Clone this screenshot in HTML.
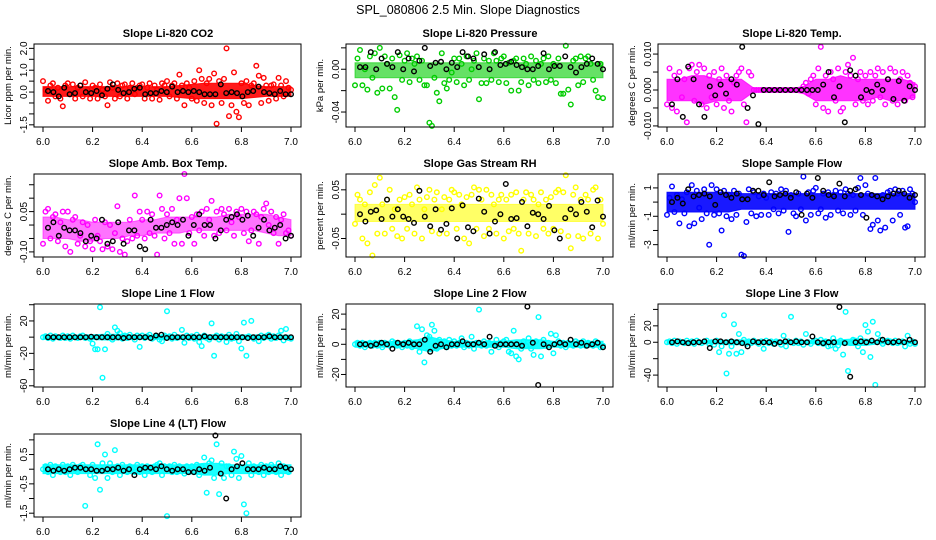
<!DOCTYPE html>
<html><head><meta charset="utf-8"><style>
html,body{margin:0;padding:0;background:#fff;}
svg{display:block;font-family:"Liberation Sans",Arial,sans-serif;}
</style></head><body>
<svg id="chart" width="936" height="540" viewBox="0 0 936 540" xmlns="http://www.w3.org/2000/svg">
<rect width="936" height="540" fill="#fff"/>
<text x="468" y="14" text-anchor="middle" font-size="12.5">SPL_080806  2.5 Min. Slope Diagnostics</text>
</svg>
<script>
// ---------- data ----------
const panelTitles = ["Slope Li-820 CO2","Slope Li-820 Pressure","Slope Li-820 Temp.","Slope Amb. Box Temp.","Slope Gas Stream RH","Slope Sample Flow","Slope Line 1 Flow","Slope Line 2 Flow","Slope Line 3 Flow","Slope Line 4 (LT) Flow"];
const yLabels = ["Licor ppm per min.","kPa per min.","degrees C per min.","degrees C per min.","percent per min.","ml/min per min.","ml/min per min.","ml/min per min.","ml/min per min.","ml/min per min."];
const colors = ["#ff0000","#00cd00","#ff00ff","#ff00ff","#ffff00","#0000ff","#00ffff","#00ffff","#00ffff","#00ffff"];
const bandOpacity = [0.9,0.6,0.8,0.55,0.6,0.9,0.9,0.9,0.9,0.9];
const yMin = [-1.6,-0.054,-0.0103,-0.119,-0.088,-3.87,-61.5,-28.3,-54.5,-1.63];
const yMax = [2.2,0.0236,0.0128,0.19,0.0825,1.98,40.9,26.7,46.6,1.2];
const yTicks = [[-1.5,-1,-0.5,0,0.5,1,1.5,2],[-0.04,-0.02,0,0.02],[-0.01,-0.005,0,0.005,0.01],[-0.1,-0.05,0,0.05,0.1,0.15],[-0.05,0,0.05],[-3,-2,-1,0,1],[-60,-40,-20,0,20,40],[-20,-10,0,10,20],[-40,-20,0,20,40],[-1.5,-1,-0.5,0,0.5,1]];
const yTickLabels = [["-1.5","","","0.0","","1.0","","2.0"],["-0.04","","0.00",""],["-0.010","","0.000","","0.010"],["-0.10","","","0.05","",""],["-0.05","","0.05"],["-3","","-1","","1"],["-60","","-20","","20",""],["-20","","0","","20"],["-40","","0","20",""],["-1.5","","-0.5","","0.5",""]];
const xTicks = [6.0,6.2,6.4,6.6,6.8,7.0];
const xTickLabels = ["6.0","6.2","6.4","6.6","6.8","7.0"];

const bandTop0=[0.25,0.25,0.25,0.25,0.25,0.25,0.25,0.25,0.25,0.25,0.25,0.3,0.35,0.4,0.4,0.4,0.4,0.3,0.25,0.25,0.25];
const bandBot0=[-0.2,-0.2,-0.2,-0.2,-0.2,-0.2,-0.2,-0.2,-0.2,-0.2,-0.2,-0.25,-0.3,-0.3,-0.3,-0.3,-0.3,-0.25,-0.2,-0.2,-0.2];
const cloud0=[0.5,0.1,-0.4,0.3,0.4,-0.2,0.2,-0.3,-0.65,0.3,0.4,-0.1,0.35,-0.3,0.2,0.3,-0.2,0.45,0.1,-0.3,0.3,0.2,-0.3,0.35,0.1,-0.2,-0.6,0.45,0.2,-0.3,0.4,-0.2,0.3,0.35,-0.3,0.2,0.4,-0.1,0.2,0.3,0.35,-0.3,0.2,0.4,-0.3,0.3,0.1,-0.35,0.4,0.3,0.5,-0.2,0.3,0.4,-0.3,0.8,0.3,-0.6,0.4,0.2,-0.3,0.5,-0.4,1.0,0.6,-0.5,0.4,0.6,-0.6,0.85,-1.45,0.5,-0.5,0.6,2.0,-1.1,-0.6,0.9,-0.9,-1.15,0.4,-0.5,0.5,-0.6,0.3,0.4,1.2,0.75,-0.5,0.65,0.3,-0.4,0.3,0.35,-0.3,0.65,0.3,-0.2,0.5,0.2,0.1];
const black0=[0.05,0.0,-0.2,0.2,-0.1,-0.05,0.3,0.0,-0.05,0.05,-0.15,0.15,0.35,0.1,-0.05,0.0,0.15,0.2,-0.1,-0.05,-0.05,0.05,0.0,0.25,0.0,0.05,0.0,0.05,0.0,-0.1,-0.1,-0.1,0.35,-0.05,0.0,-0.05,-0.2,0.0,0.05,0.25,0.0,-0.05,-0.1,0.05,-0.1,-0.1];

const bandTop1=[0.006,0.006,0.006,0.006,0.006,0.006,0.006,0.006,0.006,0.006,0.006,0.006,0.006,0.006,0.006,0.006,0.006,0.006,0.006,0.006,0.006];
const bandBot1=[-0.008,-0.008,-0.008,-0.008,-0.008,-0.008,-0.008,-0.008,-0.008,-0.008,-0.008,-0.008,-0.008,-0.008,-0.008,-0.008,-0.008,-0.008,-0.008,-0.008,-0.008];
const cloud1=[-0.015,0.01,0.018,-0.015,0.0,-0.019,0.012,-0.008,0.015,-0.022,0.02,-0.018,0.012,0.005,-0.018,0.01,-0.026,-0.038,0.013,-0.01,0.008,0.015,-0.012,0.01,0.005,0.012,-0.01,0.008,-0.015,-0.015,-0.05,-0.053,-0.008,-0.022,-0.03,0.015,-0.013,-0.018,-0.01,-0.003,0.01,-0.012,0.01,0.005,-0.015,0.012,-0.01,0.0,0.008,0.015,-0.028,-0.013,0.01,-0.013,0.008,-0.01,0.015,0.008,-0.012,0.01,0.012,-0.013,0.006,-0.02,0.008,0.01,-0.02,-0.012,0.01,0.005,-0.015,0.012,-0.01,0.008,-0.013,0.005,0.01,-0.012,0.012,-0.01,0.005,-0.013,0.01,-0.023,-0.023,0.022,-0.019,-0.033,0.008,0.01,-0.015,0.012,-0.012,0.01,0.012,0.005,-0.01,-0.02,-0.026,0.005,-0.027];
const black1=[0.002,0.002,0.016,0.0,0.01,0.005,0.002,0.016,0.0,0.01,-0.002,0.008,0.02,0.003,0.006,0.007,0.0,0.006,0.002,0.016,0.012,0.01,0.002,0.014,0.0,0.016,0.004,0.005,0.007,0.004,0.002,0.0,0.0,0.003,0.015,0.0,0.003,0.003,0.012,0.002,-0.003,0.002,0.005,0.01,0.005,0.0];

const bandTop2=[0.003,0.003,0.004,0.004,0.003,0.003,0.003,0.0005,0.0003,0.0003,0.0003,0.001,0.003,0.003,0.004,0.003,0.003,0.003,0.003,0.003,0.002];
const bandBot2=[-0.003,-0.003,-0.003,-0.004,-0.003,-0.003,-0.003,-0.0005,-0.0003,-0.0003,-0.0003,-0.001,-0.003,-0.003,-0.003,-0.003,-0.003,-0.002,-0.003,-0.003,-0.002];
const cloud2=[-0.004,0.006,-0.005,0.004,-0.006,0.005,-0.002,0.003,-0.009,0.006,0.007,-0.003,0.005,0.007,-0.004,0.006,-0.005,0.004,-0.002,0.005,-0.004,0.003,0.006,-0.005,0.004,-0.003,-0.006,0.002,0.004,0.005,0.006,-0.004,-0.009,0.005,0.004,0,0,0,0,0,0,0,0,0,0,0,0,0,0,0,0,0,0,0,0,0.001,0.002,-0.001,0.003,0.004,-0.004,0.006,0.012,-0.005,0.004,-0.006,0.005,0.003,-0.003,0.006,-0.006,-0.005,0.005,0.007,0.004,0.009,-0.004,0.003,0.005,-0.003,0.004,-0.004,0.005,-0.003,0.004,0.006,-0.002,0.005,-0.004,0.003,0.006,-0.003,0.005,-0.004,0.003,0.005,-0.003,0.004,0.002,-0.002,0.001];
const black2=[-0.004,0.003,-0.0075,0.0065,0.003,-0.004,-0.0075,0.001,-0.0015,0.0015,-0.001,0.003,0.0015,0.012,-0.005,-0.0015,-0.0095,0,0,0,0,0,0,0,0,0,0,0,0.0015,0.005,-0.002,0.001,-0.009,0.0055,0.004,-0.002,0,-0.0005,0.0015,0,0.003,-0.0025,0.0025,-0.003,0.001,0];

const bandTop3=[0.03,0.03,0.02,0.02,0.01,0.01,0.01,0.01,0.02,0.02,0.03,0.03,0.03,0.03,0.03,0.04,0.04,0.04,0.04,0.03,0.02];
const bandBot3=[-0.05,-0.05,-0.05,-0.06,-0.06,-0.05,-0.05,-0.04,-0.04,-0.03,-0.03,-0.03,-0.02,-0.02,-0.02,-0.02,-0.02,-0.02,-0.03,-0.04,-0.04];
const cloud3=[-0.07,0.05,0.06,-0.05,0.03,0.04,-0.06,0.01,0.05,-0.08,0.05,-0.1,0.02,0.03,-0.07,-0.04,0.01,-0.08,0.0,-0.06,-0.09,0.02,-0.04,-0.06,-0.09,0.01,-0.08,0.0,-0.09,-0.03,0.07,-0.1,-0.05,-0.11,-0.06,0.02,-0.05,0.11,-0.04,0.05,0.02,-0.05,0.05,-0.03,0.04,-0.04,-0.11,0.11,0.06,-0.05,0.04,-0.03,0.06,-0.07,0.02,0.1,-0.07,0.19,0.1,-0.03,0.03,-0.07,0.04,-0.02,0.05,-0.04,0.06,0.02,0.09,-0.04,0.05,-0.03,0.06,0.04,-0.02,0.06,0.01,-0.04,0.05,0.03,0.06,-0.03,0.05,-0.06,-0.02,0.05,0.04,-0.07,0.03,0.06,0.08,0.0,0.05,-0.03,0.03,-0.07,0.02,0.04,-0.03,-0.02,-0.04];
const black3=[-0.01,0.01,-0.04,-0.01,-0.02,-0.02,-0.03,-0.06,-0.04,-0.05,0.02,-0.07,-0.06,0.01,-0.07,-0.02,-0.02,-0.08,-0.09,0.02,-0.01,-0.01,0.0,0.01,0.0,0.02,-0.04,0.0,0.04,0.0,0.0,-0.05,-0.02,0.02,0.03,0.04,0.02,0.035,-0.04,-0.01,0.02,-0.02,-0.01,0.0,-0.05,-0.04];

const bandTop4=[0.02,0.02,0.02,0.02,0.02,0.02,0.02,0.02,0.02,0.02,0.02,0.02,0.02,0.02,0.02,0.02,0.02,0.02,0.02,0.02,0.02];
const bandBot4=[-0.015,-0.015,-0.015,-0.015,-0.015,-0.015,-0.015,-0.015,-0.015,-0.015,-0.015,-0.015,-0.015,-0.015,-0.015,-0.015,-0.015,-0.015,-0.015,-0.015,-0.015];
const cloud4=[-0.02,0.04,0.03,-0.05,0.02,-0.06,0.045,-0.085,0.06,-0.04,0.075,0.02,-0.04,0.03,0.05,-0.03,0.01,-0.045,0.03,-0.05,0.035,-0.03,0.04,0.02,-0.04,0.055,0.03,-0.05,0.01,0.035,0.05,-0.035,0.03,0.045,-0.04,0.01,0.035,-0.04,0.03,0.05,0.045,-0.03,0.04,0.02,-0.05,0.035,-0.06,0.04,0.055,-0.03,0.05,0.03,-0.045,0.05,-0.03,0.04,0.02,-0.04,0.03,0.04,-0.05,0.03,-0.035,0.04,-0.03,0.045,-0.04,-0.075,0.03,0.045,-0.04,0.04,0.03,-0.045,0.02,0.045,-0.03,0.03,-0.04,0.035,-0.03,0.045,0.05,-0.035,0.045,0.08,-0.045,-0.07,0.04,0.055,-0.045,0.03,-0.05,0.04,0.03,-0.04,0.05,0.055,-0.05,0.03,-0.02];
const black4=[0.0,-0.015,0.005,0.008,-0.01,0.03,-0.005,0.01,-0.005,-0.01,-0.018,0.048,-0.005,-0.025,0.01,-0.032,-0.02,0.012,-0.05,0.018,-0.027,-0.035,0.032,0.005,-0.04,-0.015,0.0,0.062,-0.01,-0.008,0.025,-0.025,0.003,0.0,-0.01,0.017,-0.033,-0.05,-0.008,0.01,0.0,0.025,0.005,-0.027,0.028,-0.005];

const bandTop5=[0.7,0.7,0.7,0.7,0.7,0.7,0.6,0.6,0.6,0.6,0.6,0.6,0.6,0.6,0.6,0.6,0.6,0.6,0.6,0.6,0.6];
const bandBot5=[-0.7,-0.7,-0.7,-0.7,-0.7,-0.7,-0.5,-0.5,-0.5,-0.5,-0.5,-0.5,-0.5,-0.5,-0.5,-0.5,-0.5,-0.5,-0.5,-0.5,-0.5];
const cloud5=[-0.9,0.3,1.1,-0.7,0.5,-1.5,0.2,-0.8,0.7,-1.7,1.2,-1.5,0.8,-0.4,-1.2,0.9,-0.8,-3.0,1.2,-0.9,0.9,-0.8,-2.0,0.8,-1.0,0.5,-1.2,0.8,-0.9,0.6,-3.7,-3.8,-1.4,0.9,-0.8,0.7,-1.0,0.4,-0.9,0.6,0.3,-0.9,0.7,-0.5,0.6,-0.8,0.9,-0.6,0.8,-2.1,0.5,-0.8,-1.0,0.6,-0.5,1.8,-1.3,0.7,-0.9,0.8,1.0,-0.8,-0.5,0.6,-1.1,0.7,-0.9,0.5,0.8,-0.6,0.7,-0.8,0.9,0.6,-0.9,0.5,-0.6,1.0,1.7,-0.9,1.2,0.6,-1.9,-1.6,1.7,-1.3,-2.0,0.5,-1.8,0.7,0.8,-1.3,0.9,0.6,-0.9,0.8,-1.8,-1.7,0.9,0.6,0.0];
const black5=[0.0,0.3,-0.1,0.9,0.4,0.5,0.6,0.4,-0.2,0.7,0.5,0.3,0.6,0.2,0.2,0.8,0.8,0.5,1.4,0.4,0.5,0.6,0.3,0.7,-0.9,0.6,0.3,1.7,0.8,0.5,0.4,1.3,0.4,0.8,0.9,0.5,-1.1,0.5,0.4,0.2,0.4,0.6,0.8,0.6,0.3,0.5];

const bandTop6=[2.5,2.5,2.5,2.5,3,3.5,3.5,3,2.5,2.5,3,2.5,2.5,3,3,3,3,2.5,2.5,2.5,2.5];
const bandBot6=[-2.5,-2.5,-2.5,-2.5,-3,-3.5,-3.5,-3,-2.5,-2.5,-3,-2.5,-2.5,-3,-3,-3,-3,-2.5,-2.5,-2.5,-2.5];
const cloud6=[0,1,-1,2,-2,1,0,-1,2,-1,1,-2,2,0,-1,1,2,-1,0,-2,-8,-15,-15,37,-50,-15,4,-1,-3,12,8,5,-2,2,-1,3,0,-3,2,-12,2,-1,1,3,-2,0,1,-3,-5,2,32,1,-2,3,-1,0,9,-7,2,-1,1,-2,3,-6,-11,2,-1,-3,17,-23,2,-3,1,0,-6,3,-2,-1,4,-5,-14,18,-23,1,20,-2,0,-5,2,-1,1,3,-2,1,-1,2,8,-4,10,-1,-2];
const black6=[0,0,0,0,0,0,0,0,0.5,0,0,0,0,0,-1,0,0,0,0,-1,2,3,-1,0,0,0,0,0,0,1,0,0,0,0,0,0,0,-1,0,0,0,1,0,0,0,0];

const bandTop7=[2,2,2,2,2,3,5,3,2,2,2,2,2,3,3,3,2,2,2,2,2];
const bandBot7=[-2,-2,-2,-2,-2,-3,-5,-3,-2,-2,-2,-2,-2,-3,-3,-3,-2,-2,-2,-2,-2];
const cloud7=[0,1,-1,1,-2,0,1,-1,1,-1,1,-2,1,0,-1,2,1,-1,0,-2,1,-1,2,-2,1,12,-5,10,-12,6,5,13,9,-3,3,-1,2,-2,3,-1,2,-1,1,4,-2,1,-1,5,-3,1,23,-1,2,-1,1,-5,0,3,-2,1,2,3,-5,-6,9,-8,-10,-3,2,-1,4,-3,-7,2,18,-8,3,-1,1,7,-6,6,2,-1,1,-2,1,0,-1,2,1,-1,2,-1,1,0,-1,2,1,-2,-1];
const black7=[0,0,-1,0,1,0,-3,1,0,1,0,0,3,-5,-1,0,-2,0,0,2,0,0,1,0,5,-1,0,0,0,0,-1,25,1,-27,0,-2,0,1,0,3,0,1,-1,0,1,-2];

const bandTop8=[2,2,2,2,2,3,3,2,2,2,2,2,2,3,3,4,4,2,2,2,2];
const bandBot8=[-2,-2,-2,-2,-2,-3,-3,-2,-2,-2,-2,-2,-2,-3,-3,-4,-4,-2,-2,-2,-2];
const cloud8=[0,1,-1,2,-2,1,0,-1,2,-1,1,-2,2,0,-1,1,2,-2,0,-3,2,-12,-5,33,-38,-14,-5,22,-14,10,-12,3,-2,1,-1,2,0,-2,1,-8,2,-1,1,-2,1,0,-3,8,-5,1,31,-1,2,-1,1,-3,10,0,-2,1,2,-1,3,-2,1,-5,-4,5,-8,-4,2,-15,37,-35,-1,3,2,-5,5,-12,21,13,-18,25,-52,10,3,-2,1,2,1,-1,2,-1,0,1,-5,8,-2,1,-2];
const black8=[0,1,0,-1,0,0,1,-7,1,1,0,1,0,-1,-5,1,0,0,0,-2,0,1,0,1,0,0,7,0,-1,0,0,43,-1,-42,0,1,0,2,0,3,0,0,1,0,3,0];

const bandTop9=[0.15,0.15,0.15,0.15,0.15,0.15,0.15,0.15,0.15,0.15,0.15,0.15,0.15,0.2,0.2,0.15,0.15,0.15,0.15,0.15,0.15];
const bandBot9=[-0.15,-0.15,-0.15,-0.15,-0.15,-0.15,-0.15,-0.15,-0.15,-0.15,-0.15,-0.15,-0.15,-0.2,-0.2,-0.15,-0.15,-0.15,-0.15,-0.15,-0.15];
const cloud9=[0,0.1,-0.1,0.15,-0.2,0.1,0,-0.1,0.15,-0.1,0.1,-0.2,0.15,0,-0.1,0.1,0.15,-1.25,0,-0.2,0.15,-0.3,0.85,-0.7,0.2,0.5,-0.3,0.2,-0.1,0.65,0.1,-0.2,0.15,0,-0.1,0.1,0.05,-0.1,0.15,-0.1,0.1,-0.2,0.1,0,-0.1,0.1,0.15,0.2,-0.2,0.1,-1.6,0.1,-0.1,0.15,-0.1,0.1,0,-0.15,0.1,-0.1,0.1,-0.1,0.15,-0.2,0.1,0.4,-0.8,0.2,0.3,-0.3,0.85,-0.85,0.2,-0.3,0.1,0.1,-0.2,0.6,0.35,-0.3,0.45,-1.2,-1.5,0.2,-0.2,0.1,0,-0.1,0.15,-0.2,0.1,-0.1,0.15,0,-0.1,0.2,-0.2,0.1,0.05,-0.1,0];
const black9=[0,-0.05,0,-0.05,0,0.05,0.05,0,0,-0.05,-0.05,0,0,0.05,-0.05,0,-0.2,0,0.05,0.05,0,0.1,0,-0.05,0,0,-0.1,-0.1,0,-0.05,0.05,1.15,-0.15,-1.0,0,0.1,0.2,0,0,0,0.05,0,0,0.1,0.05,0];

const bandTops=[bandTop0,bandTop1,bandTop2,bandTop3,bandTop4,bandTop5,bandTop6,bandTop7,bandTop8,bandTop9];
const bandBots=[bandBot0,bandBot1,bandBot2,bandBot3,bandBot4,bandBot5,bandBot6,bandBot7,bandBot8,bandBot9];
const clouds=[cloud0,cloud1,cloud2,cloud3,cloud4,cloud5,cloud6,cloud7,cloud8,cloud9];
const blacks=[black0,black1,black2,black3,black4,black5,black6,black7,black8,black9];

// ---------- drawing ----------
const NS="http://www.w3.org/2000/svg";
const svg=document.getElementById("chart");
function mk(tag,attrs,parent){const e=document.createElementNS(NS,tag);for(const k in attrs)e.setAttribute(k,attrs[k]);(parent||svg).appendChild(e);return e;}

for(let p=0;p<10;p++){
  const col=p%3,row=Math.floor(p/3);
  const ox=col*312,oy=25+row*130;
  const g=mk("g",{});
  
  
  const bx0=ox+34,bx1=ox+301,by0=oy+19,by1=oy+102;
  const xs=v=>ox+43+(v-6)*248;
  const ys=v=>by1-(v-yMin[p])/(yMax[p]-yMin[p])*(by1-by0);
  const t=mk("text",{x:ox+168,y:oy+12,"text-anchor":"middle","font-size":"11","font-weight":"bold"},g);
  t.textContent=panelTitles[p];
  
  
  const cy=(by0+by1)/2;
  const yl=mk("text",{x:ox+11,y:cy,"text-anchor":"middle","font-size":"9.5",transform:`rotate(-90 ${ox+11} ${cy})`},g);
  yl.textContent=yLabels[p];
  
  
  let pts=[];
  const bt=bandTops[p],bb=bandBots[p];
  for(let i=0;i<bt.length;i++)pts.push(xs(6+i*0.05).toFixed(1)+","+ys(bt[i]).toFixed(1));
  for(let i=bb.length-1;i>=0;i--)pts.push(xs(6+i*0.05).toFixed(1)+","+ys(bb[i]).toFixed(1));
  const band=mk("polygon",{points:pts.join(" "),fill:colors[p],"fill-opacity":bandOpacity[p],stroke:colors[p],"stroke-opacity":bandOpacity[p],"stroke-width":"1"},g);
  
  
  const cl=clouds[p];
  for(let i=0;i<cl.length;i++){
    const c=mk("circle",{cx:xs(6+i/(cl.length-1)).toFixed(1),cy:ys(cl[i]).toFixed(1),r:"2.3",fill:"none",stroke:colors[p],"stroke-width":"1.4"},g);
    
    
  }
  const bk=blacks[p];
  for(let i=0;i<bk.length;i++){
    const c=mk("circle",{cx:xs(6.02+i*0.98/(bk.length-1)).toFixed(1),cy:ys(bk[i]).toFixed(1),r:"2.3",fill:"none",stroke:"#000","stroke-width":"1.4"},g);
    
    
  }
  const box=mk("rect",{x:bx0,y:by0,width:bx1-bx0,height:by1-by0,fill:"none",stroke:"#000","stroke-width":"1"},g);
  
  
  for(let i=0;i<xTicks.length;i++){
    const x=xs(xTicks[i]);
    mk("line",{x1:x,y1:by1,x2:x,y2:by1+5,stroke:"#000"},g);
    const tl=mk("text",{x:x,y:by1+18,"text-anchor":"middle","font-size":"10"},g);
    tl.textContent=xTickLabels[i];
    
    
  }
  const yt=yTicks[p];
  mk("line",{x1:bx0,y1:ys(yt[0]),x2:bx0,y2:ys(yt[yt.length-1]),stroke:"#000"},g);
  for(let i=0;i<yt.length;i++){
    const y=ys(yt[i]);
    mk("line",{x1:bx0-5,y1:y,x2:bx0,y2:y,stroke:"#000"},g);
    const lab=yTickLabels[p][i];
    if(lab){
      const tl=mk("text",{x:ox+27,y:y,"text-anchor":"middle","font-size":"10",transform:`rotate(-90 ${ox+27} ${y})`},g);
      tl.textContent=lab;
      
      
    }
  }
}
</script>
</body></html>
